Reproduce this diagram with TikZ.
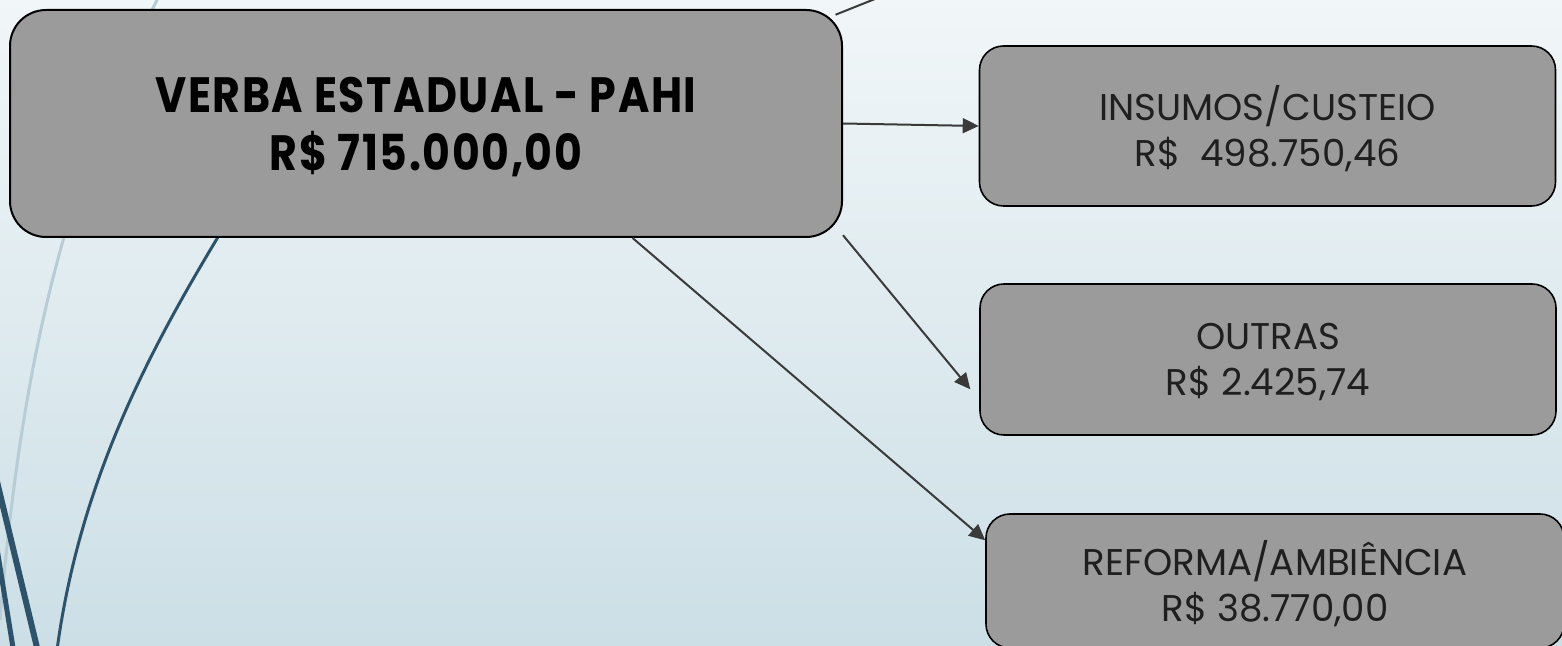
\documentclass[tikz,border=0pt]{standalone}
\usepackage{fontspec}
\setmainfont{Poppins}[BoldFeatures={FakeStretch=0.86,LetterSpace=3.2}]
\usetikzlibrary{arrows.meta}
\definecolor{bgtop}{HTML}{F1F6F8}
\definecolor{bgbot}{HTML}{CCDFE6}
\definecolor{boxgray}{HTML}{9B9B9B}
\definecolor{deco}{HTML}{2D5269}
\definecolor{decolight}{HTML}{B7CCD5}
\definecolor{conncol}{HTML}{3A3A3A}
\newcommand\desce[2][2pt]{\raisebox{-#1}[\height][\depth]{#2}}
\begin{document}
\begin{tikzpicture}[x=0.5pt,y=-0.5pt,line join=round,>={Triangle[length=8pt,width=7.5pt]},
 verba/.style={draw=black,line width=1pt,fill=boxgray,rounded corners=18pt,minimum width=416pt,minimum height=113.5pt,align=center,inner sep=0pt,font=\fontsize{24.8}{29}\selectfont\bfseries},
 item/.style={draw=black,line width=0.8pt,fill=boxgray,rounded corners=12pt,minimum width=288pt,minimum height=80pt,align=center,inner sep=0pt,text=black!88,font=\fontsize{18.6}{23}\selectfont},
 conn/.style={->,draw=conncol,fill=conncol,line width=1pt}]
\useasboundingbox (0,0) rectangle (1562,646);
\clip (0,0) rectangle (1562,646);
\shade[top color=bgtop,bottom color=bgbot] (0,0) rectangle (1562,646);
% decoracao
\draw[decolight,line width=1.5pt] (158,-2) .. controls (60,190) and (20,380) .. (0,620);
\draw[deco,line width=1.5pt] (218,237) .. controls (150,350) and (80,480) .. (57,650);
\draw[deco,line width=3pt] (-13,440) -- (40,660);
\draw[deco,line width=2.5pt] (-6,530) -- (15,660);
% caixas
\node[verba] (verba) at (426,123.5) {\desce{VERBA ESTADUAL - PAHI}\\\desce{R\$ 715.000,00}};
\node[item] (insumos) at (1267.5,126) {\desce[1.5pt]{INSUMOS/CUSTEIO}\\\desce[1.5pt]{R\$\ \ 498.750,46}};
\node[item,minimum height=75.5pt] (outras) at (1268,359.5) {\desce[1.5pt]{OUTRAS}\\\desce[1.5pt]{R\$ 2.425,74}};
\node[item,minimum width=289pt,minimum height=67pt] (reforma) at (1275,581) {\desce[1.5pt]{REFORMA/AMBIÊNCIA}\\\desce[1.5pt]{R\$ 38.770,00}};
\coordinate (acima) at (905,-13);
% setas
\draw[conn,-,shorten <=-4pt] (verba.15.1) -- (acima);
\draw[conn] (verba.east) -- (insumos.west);
\draw[conn,shorten >=7pt] (verba.-15.6) -- (outras.188.9);
\draw[conn] (verba.-29.1) -- (reforma.172.5);
\end{tikzpicture}
\end{document}
